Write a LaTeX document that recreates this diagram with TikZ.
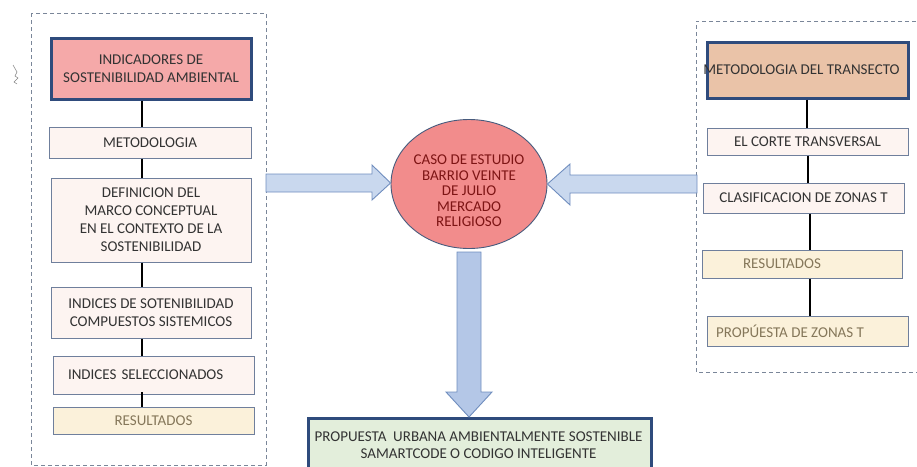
\documentclass[tikz,border=0pt]{standalone}
\usepackage{fontspec}
\setmainfont{Carlito}
\usetikzlibrary{shapes.geometric,shapes.arrows}
\definecolor{txt}{HTML}{333333}
\definecolor{navy}{HTML}{2F4B7C}
\definecolor{thin}{HTML}{6F7F9C}
\definecolor{pinkbox}{HTML}{F5A9A9}
\definecolor{tanbox}{HTML}{EAC3A8}
\definecolor{paleb}{HTML}{FDF4F1}
\definecolor{yel}{HTML}{FBF1DA}
\definecolor{restxt}{HTML}{85775A}
\definecolor{ellfill}{HTML}{F28C8C}
\definecolor{elltxt}{HTML}{7E1515}
\definecolor{arrfill}{HTML}{C9D8EE}
\definecolor{arrdown}{HTML}{B4C7E7}
\definecolor{arrline}{HTML}{6F8DBE}
\definecolor{greenbox}{HTML}{E3EEDB}
\definecolor{dashc}{HTML}{7A8699}
\tikzset{
  x=1pt,y=-1pt,
  every node/.style={font=\fontsize{15}{18}\selectfont, text=txt, inner sep=0pt, align=center},
  headbox/.style={draw=navy, line width=3pt},
  stepbox/.style={draw=thin, line width=1pt, fill=paleb},
  resbox/.style={draw=thin, line width=1pt, fill=yel},
  link/.style={line width=1.3pt, black},
  frame/.style={draw=dashc, line width=0.9pt, dash pattern=on 4pt off 3pt},
  bigarrow/.style={draw=arrline, line width=0.9pt, fill=arrfill, line join=miter}
}
\begin{document}
\begin{tikzpicture}
\useasboundingbox (0,0) rectangle (917,466);
% frames
\draw[frame] (31,13) rectangle (266,465);
\draw[frame] (930,21) -- (696,21) -- (696,372) -- (930,372);

% stray mark
\draw[line width=0.5pt, gray] (13,65) -- (17,72) -- (15,76) -- (18,78) -- (14,82) -- (17,84);

% left column
\node[headbox, fill=pinkbox, minimum width=200pt, minimum height=61pt] (a1) at (151,68.5) {INDICADORES DE\\SOSTENIBILIDAD AMBIENTAL};
\node[stepbox, minimum width=202pt, minimum height=31pt] (a2) at (150,142.5) {METODOLOGIA};
\node[stepbox, minimum width=200pt, minimum height=84pt] (a3) at (151,220) {DEFINICION DEL\\MARCO CONCEPTUAL\\EN EL CONTEXTO DE LA\\SOSTENIBILIDAD};
\node[stepbox, minimum width=200pt, minimum height=51pt] (a4) at (151,312.5) {INDICES DE SOTENIBILIDAD\\COMPUESTOS SISTEMICOS};
\node[stepbox, minimum width=201pt, minimum height=38pt, text width=195pt, align=left] (a5) at (153.5,375) {\hspace*{12pt}INDICES SELECCIONADOS};
\node[resbox, minimum width=201pt, minimum height=27pt, text=restxt] (a6) at (153.5,420.5) {RESULTADOS};
\draw[link] (a1.south -| 142,0) -- (a2.north -| 142,0);
\draw[link] (a2.south -| 142,0) -- (a3.north -| 142,0);
\draw[link] (a3.south -| 142,0) -- (a4.north -| 142,0);
\draw[link] (a4.south -| 142,0) -- (a5.north -| 142,0);
\draw[link] (142,392) -- (a6.north -| 142,0);

% right column
\node[headbox, fill=tanbox, minimum width=201pt, minimum height=56pt] (b1) at (807.5,70) {\hspace*{-12pt}METODOLOGIA DEL TRANSECTO};
\node[stepbox, minimum width=201pt, minimum height=27pt] (b2) at (807.5,141.5) {EL CORTE TRANSVERSAL};
\node[stepbox, minimum width=201pt, minimum height=30pt] (b3) at (803.5,198) {CLASIFICACION DE ZONAS T};
\node[resbox, minimum width=200pt, minimum height=28pt, text=restxt] (b4) at (802,264) {\hspace*{-40pt}RESULTADOS};
\node[resbox, minimum width=201pt, minimum height=30pt, text=restxt] (b5) at (807.5,331) {\hspace*{-35pt}PROPÚESTA DE ZONAS T};
\draw[link] (b1.south -| 807,0) -- (b2.north -| 807,0);
\draw[link] (b2.south -| 808,0) -- (b3.north -| 808,0);
\draw[link] (b3.south -| 810,0) -- (b4.north -| 810,0);
\draw[link] (b4.south -| 810,0) -- (b5.north -| 810,0);

% center
\node[ellipse, draw=navy!70!gray, line width=0.9pt, fill=ellfill, minimum width=156pt, minimum height=129pt] (c) at (469,184) {};
\node[text=elltxt, font=\fontsize{15}{15.5}\selectfont] (ct) at (469,191) {CASO DE ESTUDIO\\BARRIO VEINTE\\DE JULIO\\MERCADO\\RELIGIOSO};
\node[headbox, fill=greenbox, minimum width=343pt, minimum height=60pt, anchor=north west] (d) at (307,417) {};
\node[anchor=north, font=\fontsize{15}{17}\selectfont] (dt) at (478.5,432) {PROPUESTA\ \ URBANA AMBIENTALMENTE SOSTENIBLE\\SAMARTCODE O CODIGO INTELIGENTE};

% big arrows
\draw[bigarrow] (266,174) -- (372,174) -- (372,165) -- (c.west |- 0,183) -- (372,200) -- (372,192) -- (266,192) -- cycle;
\draw[bigarrow] (697,175) -- (570,175) -- (570,164) -- (c.east |- 0,184) -- (570,205) -- (570,193) -- (697,193) -- cycle;
\draw[bigarrow, fill=arrdown] (457,252) -- (481,252) -- (481,392) -- (492,392) -- (d.north -| 469,0) -- (446,392) -- (457,392) -- cycle;
\end{tikzpicture}
\end{document}
